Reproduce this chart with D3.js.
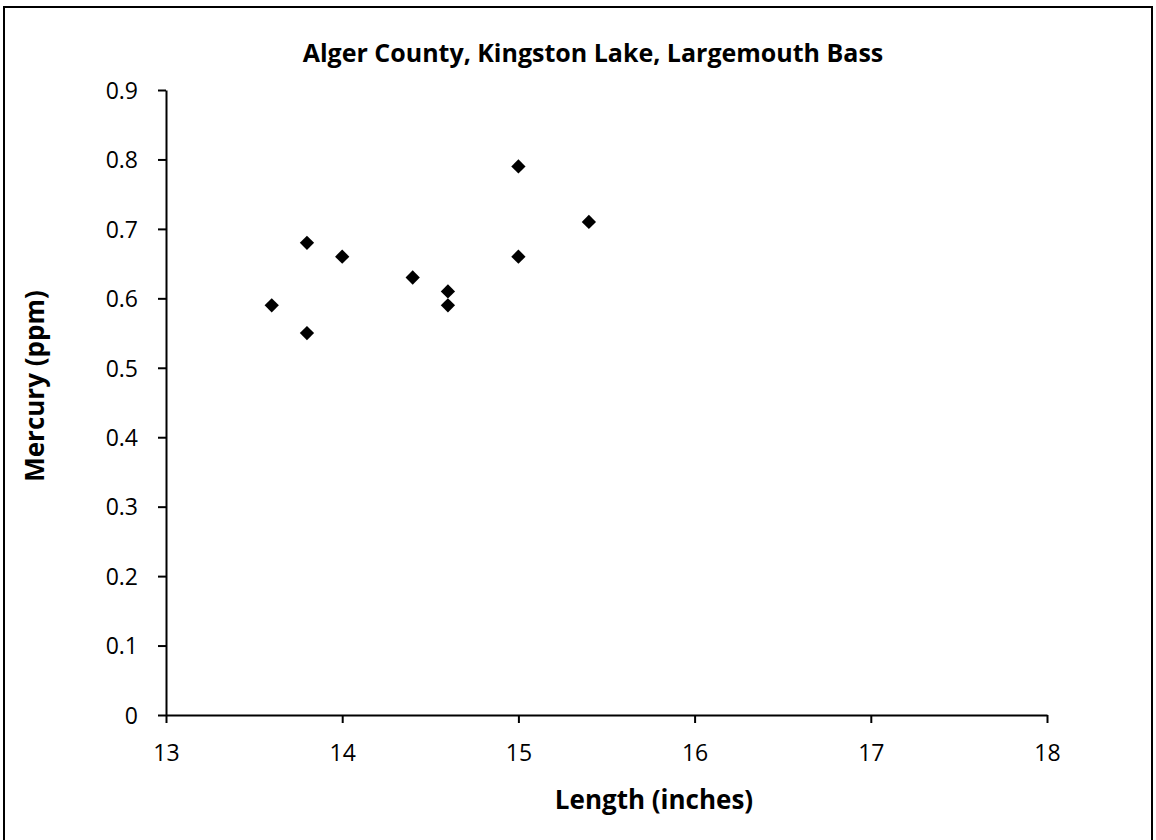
<!DOCTYPE html>
<html><head><meta charset="utf-8">
<script src="https://cdn.jsdelivr.net/npm/d3@7"></script>
<style>body{margin:0;background:#fff}svg{display:block}text{font-family:"Open Sans","Liberation Sans",sans-serif;fill:#000}</style>
</head><body>
<svg id="c" width="1156" height="840"></svg>
<script>
const lengths = [13.6, 13.8, 13.8, 14.0, 14.4, 14.6, 14.6, 15.0, 15.0, 15.4];
const mercury = [0.59, 0.68, 0.55, 0.66, 0.63, 0.61, 0.59, 0.79, 0.66, 0.71];
const xTicks = [13, 14, 15, 16, 17, 18];
const yTicks = [0, 0.1, 0.2, 0.3, 0.4, 0.5, 0.6, 0.7, 0.8, 0.9];
const title = "Alger County, Kingston Lake, Largemouth Bass";
const xLabel = "Length (inches)";
const yLabel = "Mercury (ppm)";

const svg = d3.select("#c");
svg.append("rect").attr("x",4).attr("y",7).attr("width",1148).attr("height",840).attr("fill","none").attr("stroke","#000").attr("stroke-width",2);

const x = d3.scaleLinear().domain([13,18]).range([166,1047]);
const y = d3.scaleLinear().domain([0,0.9]).range([715,90]);

const xa = svg.append("g").attr("transform","translate(0,715)")
  .call(d3.axisBottom(x).tickValues(xTicks).tickFormat(d3.format("d")).tickSize(8).tickSizeOuter(0));
const ya = svg.append("g").attr("transform","translate(166,0)")
  .call(d3.axisLeft(y).tickValues(yTicks).tickFormat(d=>d===0?"0":d3.format(".1f")(d)).tickSize(8).tickSizeOuter(0));
[xa,ya].forEach(a=>{a.selectAll("path,line").attr("stroke","#000").attr("stroke-width",2);a.selectAll("text").attr("font-size",23).attr("font-family",'"Open Sans","Liberation Sans",sans-serif').attr("fill","#000");});
xa.selectAll("text").attr("y",0).attr("dy",null).attr("transform","translate(0,46)");
ya.selectAll("text").attr("x",-28).attr("dy","0.36em");

const pts = lengths.map((l,i)=>({l, m: mercury[i]}));
svg.append("g").selectAll("path").data(pts).join("path")
  .attr("transform",d=>`translate(${x(d.l)},${y(d.m)})`)
  .attr("d",d3.symbol().type(d3.symbolDiamond2).size(130))
  .attr("fill","#000");

svg.append("text").attr("x",593).attr("y",62).attr("text-anchor","middle").attr("font-size",25).attr("font-weight","bold").text(title);
svg.append("text").attr("x",654).attr("y",809).attr("text-anchor","middle").attr("font-size",26).attr("font-weight","bold").text(xLabel);
svg.append("text").attr("transform","translate(44,386) rotate(-90)").attr("text-anchor","middle").attr("font-size",26).attr("font-weight","bold").text(yLabel);
</script>
</body></html>
